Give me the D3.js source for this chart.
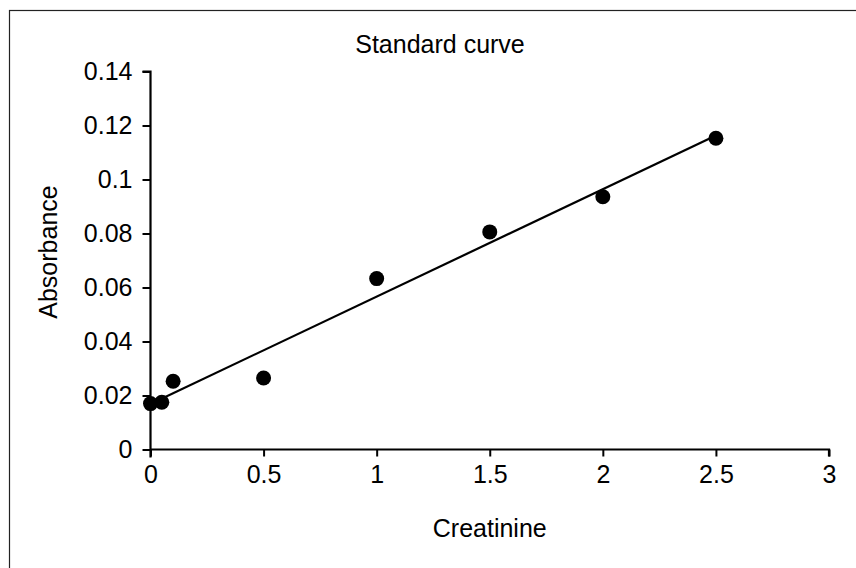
<!DOCTYPE html>
<html>
<head>
<meta charset="utf-8">
<script src="https://cdn.jsdelivr.net/npm/d3@7"></script>
<style>
  html, body { margin: 0; padding: 0; background: #fff; }
  svg { display: block; }
  text { font-family: "Liberation Sans", Arial, sans-serif; fill: #000; }
</style>
</head>
<body>
<svg id="chart" width="856" height="568"></svg>
<script>
// Creatinine standards and measured absorbance
const creatinine = [0, 0.05, 0.1, 0.5, 1, 1.5, 2, 2.5];
const absorbance = [0.017, 0.0175, 0.0253, 0.0265, 0.0633, 0.0806, 0.0936, 0.1153];
const xTicks = [0, 0.5, 1, 1.5, 2, 2.5, 3];
const yTicks = [0, 0.02, 0.04, 0.06, 0.08, 0.1, 0.12, 0.14];

const svg = d3.select("#chart");
const W = 856, H = 568;

// Frame (top and left edges visible within the page)
svg.append("rect")
  .attr("x", 9.5).attr("y", 10.5)
  .attr("width", W + 20).attr("height", H + 20)
  .attr("fill", "none").attr("stroke", "#222").attr("stroke-width", 1.2);

const x = d3.scaleLinear().domain([0, 3]).range([150.5, 829]);
const y = d3.scaleLinear().domain([0, 0.14]).range([449.5, 71.5]);

// Y axis
const yAxis = d3.axisLeft(y).tickValues(yTicks).tickSize(8).tickPadding(10)
  .tickFormat(d => d3.format("~g")(d));
const gy = svg.append("g").attr("transform", `translate(${x(0)},0)`).call(yAxis);
gy.select(".domain").attr("stroke", "#000").attr("stroke-width", 2.2)
  .attr("d", `M-8,${y(0.14)}H0V${y(0) + 8}`);
gy.selectAll(".tick line").attr("stroke", "#000").attr("stroke-width", 2);
gy.selectAll(".tick text").attr("font-size", 25).attr("font-family", "Liberation Sans, Arial, sans-serif")
  .attr("fill", "#000");

// X axis
const xAxis = d3.axisBottom(x).tickValues(xTicks).tickSize(7).tickPadding(9)
  .tickFormat(d => d3.format("~g")(d));
const gx = svg.append("g").attr("transform", `translate(0,${y(0)})`).call(xAxis);
gx.select(".domain").attr("stroke", "#000").attr("stroke-width", 2.2)
  .attr("d", `M${x(0)},0H${x(3)}V7`);
gx.selectAll(".tick line").attr("stroke", "#000").attr("stroke-width", 2);
gx.selectAll(".tick text").attr("font-size", 25).attr("font-family", "Liberation Sans, Arial, sans-serif")
  .attr("fill", "#000");

// Least-squares trend line over the standards
const n = creatinine.length;
const mx = d3.mean(creatinine), my = d3.mean(absorbance);
let sxy = 0, sxx = 0;
for (let i = 0; i < n; i++) {
  sxy += (creatinine[i] - mx) * (absorbance[i] - my);
  sxx += (creatinine[i] - mx) ** 2;
}
const slope = sxy / sxx, intercept = my - slope * mx;
const xr = d3.extent(creatinine);
svg.append("line")
  .attr("x1", x(xr[0])).attr("y1", y(intercept + slope * xr[0]))
  .attr("x2", x(xr[1])).attr("y2", y(intercept + slope * xr[1]))
  .attr("stroke", "#000").attr("stroke-width", 2.2);

// Data points
svg.append("g").selectAll("circle")
  .data(creatinine.map((c, i) => [c, absorbance[i]]))
  .join("circle")
  .attr("cx", d => x(d[0])).attr("cy", d => y(d[1]))
  .attr("r", 7.5).attr("fill", "#000");

// Titles
svg.append("text").attr("x", 440).attr("y", 53).attr("text-anchor", "middle")
  .attr("font-size", 25).text("Standard curve");
svg.append("text").attr("x", x(1.5)).attr("y", 537).attr("text-anchor", "middle")
  .attr("font-size", 25).text("Creatinine");
svg.append("text").attr("transform", `translate(57,252) rotate(-90)`)
  .attr("text-anchor", "middle").attr("font-size", 25).text("Absorbance");
</script>
</body>
</html>
